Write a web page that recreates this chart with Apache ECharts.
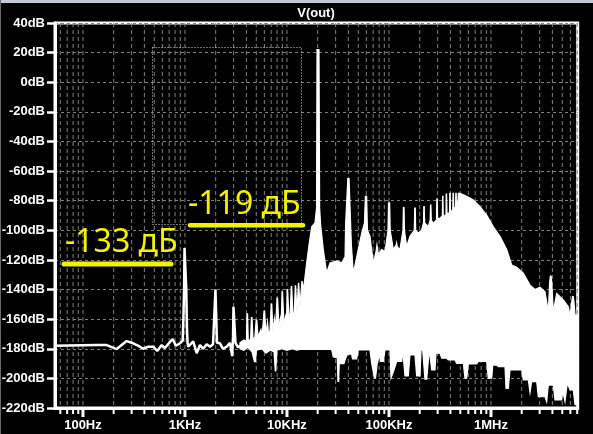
<!DOCTYPE html>
<html><head><meta charset="utf-8">
<script src="https://cdn.jsdelivr.net/npm/echarts@6/dist/echarts.min.js"></script>
<style>html,body{margin:0;padding:0;background:#000;overflow:hidden}#c{width:593px;height:434px;}</style>
</head><body><div id="c"></div>
<script>
// ---- axis definitions ----
const xMin = 53.2, xMax = 7.08e6;
const yMin = -220, yMax = 40, yStep = 20;
const xTickLabels = [[100,'100Hz'],[1000,'1KHz'],[10000,'10KHz'],[100000,'100KHz'],[1000000,'1MHz']];
const majorTicks = [100,1000,10000,100000,1000000];
const minorTicks = [60,70,80,90,200,300,400,500,600,700,800,900,
  2000,3000,4000,5000,6000,7000,8000,9000,
  20000,30000,40000,50000,60000,70000,80000,90000,
  200000,300000,400000,500000,600000,700000,800000,900000,
  2000000,3000000,4000000,5000000,6000000,7000000];
const gridFreqs = [60,70,80,90,100,200,300,400,500,600,700,800,900,1000,
  2000,3000,4000,5000,6000,7000,8000,9000,10000,
  20000,30000,40000,50000,60000,70000,80000,90000,100000,
  200000,300000,400000,500000,600000,700000,800000,900000,1000000,
  2000000,3000000,4000000,5000000,6000000,7000000];

// ---- low-frequency trace [Hz, dB] ----
const lowTrace = [
  [53.2,-178],[136,-177.5],[171,-177.5],[214,-180.2],[268,-174.8],[311,-176.3],[362,-178.6],
  [390,-180],[437,-178.6],[489,-178.6],[535,-181.5],[591,-177.5],[637,-179.5],[686,-176.8],
  [757,-173.4],[816,-178],[893,-176.3],[950,-174.5],[965,-160],[980,-140],[990,-112],[1010,-112],
  [1030,-140],[1045,-165],[1060,-176],[1076,-178.6],[1119,-178.6],[1205,-175],[1302,-183],
  [1403,-177.5],[1510,-180],[1633,-177],[1758,-178.6],[1883,-177],[1960,-176],[1990,-140],
  [2030,-140],[2060,-176],[2203,-176.3],[2360,-180],[2566,-178.6],[2762,-176],[2900,-185],
  [2960,-171.8],[2990,-151.6],[3030,-151.6],[3126,-176],[3311,-179],[3460,-178]
];

// ---- upper envelope of dense spectrum [Hz, dB] ----
const bandTop = [
  [3460,-176],[3785,-174],[4010,-175],[4050,-156.5],[4110,-156.5],[4180,-176],[4400,-173],[4480,-159],
  [4540,-159],[4645,-174],[4850,-172],[4990,-160.6],[5060,-160.6],[5200,-172],[5560,-167],[5700,-172],
  [5960,-154.5],[6040,-154.5],[6220,-170],[6450,-162],[6600,-170],[6810,-168],[7010,-149.8],[7090,-149.8],
  [7290,-168],[7550,-160],[7700,-168],[7990,-145.7],[8080,-145.7],[8350,-166],[8600,-160],[8750,-166],
  [8950,-141.5],[9040,-141.5],[9350,-163],[9700,-158],[9900,-163],[10050,-140],[10150,-140],[10470,-160],
  [10750,-156],[11020,-138],[11120,-138],[11460,-158],[11800,-155],[12060,-137.5],[12160,-137.5],[12530,-155],
  [12950,-135.8],[13050,-135.8],[13400,-152],[14000,-134.7],[14080,-134.7],[14520,-140],[15610,-122],[16440,-110],
  [17470,-97.6],[18820,-95],[19500,-85],[19700,22],[20600,22],[20900,-85],[21390,-96.5],[22700,-113],
  [24500,-128.8],[26400,-122],[30700,-120.7],[34400,-122],[37100,-117.8],[37600,-95],[39500,-65],
  [40600,-65],[42050,-95],[42800,-110],[44700,-129],[50000,-113],[54000,-102],[57500,-95],[58700,-77],
  [60400,-77],[61500,-100],[65100,-104],[70200,-122],[74500,-115],[76200,-110],[78500,-116],
  [84800,-113],[91400,-114.5],[97800,-100],[99000,-81.5],[101500,-81.5],[102800,-100],[110200,-113],
  [117500,-110],[118900,-108.5],[120500,-111],[128100,-113],[137100,-100],[138500,-84.7],[140500,-84.7],
  [141800,-100],[149000,-111],[160600,-104],[177000,-100],[179000,-85],[181000,-85],[182700,-100],
  [193700,-102],[209200,-99.8],[218000,-95],[219500,-84],[221500,-84],[223900,-95],[242800,-97.6],
  [253400,-93],[255500,-83],[257500,-83],[260000,-93],[271800,-95.3],[292200,-93],[294500,-79],
  [297000,-79],[299500,-92],[316200,-92],[333400,-90],[335500,-77],[338000,-77],[340200,-90],
  [362200,-89.7],[364000,-75.5],[367000,-75.5],[370700,-89],[392000,-88],[394500,-75],[398000,-75],
  [401000,-88],[421800,-86],[424500,-75],[428500,-75],[431500,-86],[449000,-84],[452000,-75],
  [456000,-75],[459000,-84],[475000,-80],[478000,-75],[497000,-75],[578000,-77],[671000,-79.5],
  [780000,-84],[907000,-89.7],[1055000,-97.6],[1225000,-104],[1425000,-113],[1596000,-123.4],
  [1787000,-125],[2075000,-129],[2412000,-137],[2700000,-140],[3022000,-138.5],[3383000,-141.5],
  [3648000,-155],[3760000,-135],[3820000,-131],[3880000,-131],[3940000,-135],[4081000,-155],
  [4407000,-142.6],[5117000,-147],[5729000,-151.6],[5955000,-158],[6200000,-148],[6300000,-144.8],
  [6400000,-144.8],[6500000,-148],[6665000,-157],[7080000,-158]
];

// ---- lower envelope of dense spectrum [Hz, dB] ----
const bandBottom = [
  [3460,-180],[3785,-181],[4150,-179],[4540,-182],[4800,-188.7],[4900,-188.7],[5024,-181],[5690,-180],
  [6225,-183],[6810,-181],[7460,-182],[7680,-195],[7760,-195],[7980,-181],[8930,-180],[10000,-181],
  [11200,-180],[12530,-181],[13400,-180.5],[27400,-180.4],[28450,-185.6],[31120,-186],[31600,-202],
  [32100,-202],[32580,-190],[36220,-190],[37050,-187.6],[39010,-183.7],[43060,-183.7],[43870,-186.9],
  [48200,-186.9],[50000,-180.8],[65140,-180.8],[67650,-189.8],[72000,-199.7],[73800,-199.7],
  [76800,-189.8],[80360,-184.2],[82950,-188.6],[87980,-188.6],[91400,-180.8],[102300,-180.8],
  [104700,-199.7],[112000,-194.3],[118900,-188.6],[133300,-188.6],[136200,-180.8],[143500,-198.4],
  [154600,-198.4],[160600,-184.2],[179800,-184.2],[186900,-198.4],[201500,-198.4],[206100,-180.8],
  [214000,-180.8],[225300,-200.6],[234300,-200.6],[248500,-180.8],[262400,-194.3],[282500,-194.3],
  [289000,-183],[316200,-183],[328700,-186.4],[368200,-186.4],[381300,-187.5],[443500,-187.5],
  [461000,-189.8],[535200,-189.8],[556000,-199.9],[577900,-199.9],[599000,-190.3],[724000,-190.3],
  [750000,-188.6],[907000,-188.6],[941000,-199.9],[1017000,-199.9],[1040000,-191],[1138000,-191],
  [1181000,-192.1],[1372000,-192.1],[1403000,-206.7],[1478000,-206.7],[1536000,-194.3],
  [2000000,-194.3],[2074000,-201],[2323000,-201],[2412000,-209.6],[2505000,-202.2],[2806000,-202.2],
  [2910000,-212.4],[3383000,-212.4],[3515000,-215.7],[3648000,-204.5],[4081000,-204.5],
  [4240000,-214.6],[4930000,-214.6],[5044000,-208],[5313000,-215.7],[5600000,-203],[5954000,-207.8],
  [6415000,-207.8],[6664000,-217.8],[7080000,-217.8]
];

const chart = echarts.init(document.getElementById('c'), null, {renderer:'canvas'});
const yellow = '#f2f200';
const labelFont = 'Liberation Sans';

function vLineSeries(freqs, y1, y2, style, z) {
  return {
    type:'custom', z:z, silent:true, clip:false,
    data: freqs.map(f => [f, yMin]), encode:{x:0, y:1},
    renderItem: function(p, api) {
      const a = api.coord([api.value(0), y1]);
      const b = api.coord([api.value(0), y2]);
      return {type:'line', shape:{x1:a[0], y1:a[1] + (style.off1||0), x2:b[0], y2:b[1] + (style.off2||0)},
              style:{stroke:style.color, lineWidth:style.width, lineDash:style.dash||null}};
    }
  };
}

chart.setOption({
  animation:false,
  backgroundColor:'#000',
  grid:{left:55, top:23, right:15.3, bottom:26, show:true, borderColor:'#fff', borderWidth:3,
    backgroundColor:'transparent', containLabel:false, outerBoundsMode:'none'},
  xAxis:{
    type:'log', logBase:10, min:xMin, max:xMax,
    axisLine:{show:true, onZero:false, lineStyle:{color:'#fff', width:3}},
    axisTick:{show:false}, splitLine:{show:false}, minorTick:{show:false},
    axisLabel:{color:'#fff', fontFamily:labelFont, fontWeight:'bold', fontSize:13, margin:11,
      showMinLabel:false, showMaxLabel:false, hideOverlap:false,
      formatter:function(v){
        for (const t of xTickLabels) if (Math.abs(v/t[0]-1) < 1e-3) return t[1];
        return '';
      }}
  },
  yAxis:{
    type:'value', min:yMin, max:yMax, interval:yStep,
    axisLine:{show:true, onZero:false, lineStyle:{color:'#fff', width:3}},
    axisTick:{show:true, length:8, lineStyle:{color:'#fff', width:2.5}},
    axisLabel:{color:'#fff', fontFamily:labelFont, fontWeight:'bold', fontSize:13, margin:10,
      formatter:function(v){ return v + 'dB'; }},
    splitLine:{show:true, lineStyle:{color:'#808080', width:1, type:[3,3]}}
  },
  series:[
    vLineSeries(gridFreqs, yMax, yMin, {color:'#808080', width:1, dash:[4,3]}, 1),
    {
      type:'custom', z:3, silent:true, clip:false,
      data:[[bandTop[0][0], bandTop[0][1]]], encode:{x:0, y:1},
      renderItem:function(p, api){
        const pts = [];
        for (let i = 0; i < bandTop.length; i++) pts.push(api.coord(bandTop[i]));
        for (let j = bandBottom.length - 1; j >= 0; j--) pts.push(api.coord(bandBottom[j]));
        return {type:'polygon', shape:{points:pts}, style:{fill:'#fff', stroke:'#fff', lineWidth:1.2}};
      }
    },
    {
      type:'line', z:3, silent:true, data:lowTrace, showSymbol:false, symbol:'none',
      lineStyle:{color:'#fff', width:2.5}
    },
    vLineSeries(minorTicks, yMin, yMin, {color:'#fff', width:2, off1:0, off2:6}, 5),
    vLineSeries(majorTicks, yMin, yMin, {color:'#fff', width:3, off1:0, off2:9}, 5)
  ],
  graphic:[
    {type:'rect', silent:true, z:100, shape:{x:0, y:0, width:593, height:3}, style:{fill:'#c4c9d2'}},
    {type:'rect', silent:true, z:100, shape:{x:0, y:0, width:1, height:434}, style:{fill:'#6a6a6a'}},
    {type:'text', silent:true, z:100, style:{x:316, y:13, text:'V(out)', fill:'#fff',
      font:'bold 13px "Liberation Sans"', align:'center', verticalAlign:'middle'}},
    {type:'rect', silent:true, z:90, shape:{x:152.5, y:47.5, width:149, height:177},
      style:{fill:'none', stroke:'#d8d8d8', lineWidth:1, lineDash:[1,2]}},
    {type:'text', silent:true, z:100, style:{x:65, y:243, text:'-133 дБ', fill:yellow,
      font:'32px "Noto Sans"', align:'left', verticalAlign:'middle'}},
    {type:'text', silent:true, z:100, style:{x:188, y:205, text:'-119 дБ', fill:yellow,
      font:'32px "Noto Sans"', align:'left', verticalAlign:'middle'}},
    {type:'line', silent:true, z:100, shape:{x1:64, y1:264, x2:171, y2:264},
      style:{stroke:yellow, lineWidth:5, lineCap:'round'}},
    {type:'line', silent:true, z:100, shape:{x1:190, y1:225.3, x2:303, y2:225.3},
      style:{stroke:yellow, lineWidth:4.5, lineCap:'round'}}
  ]
});
</script>
</body></html>
